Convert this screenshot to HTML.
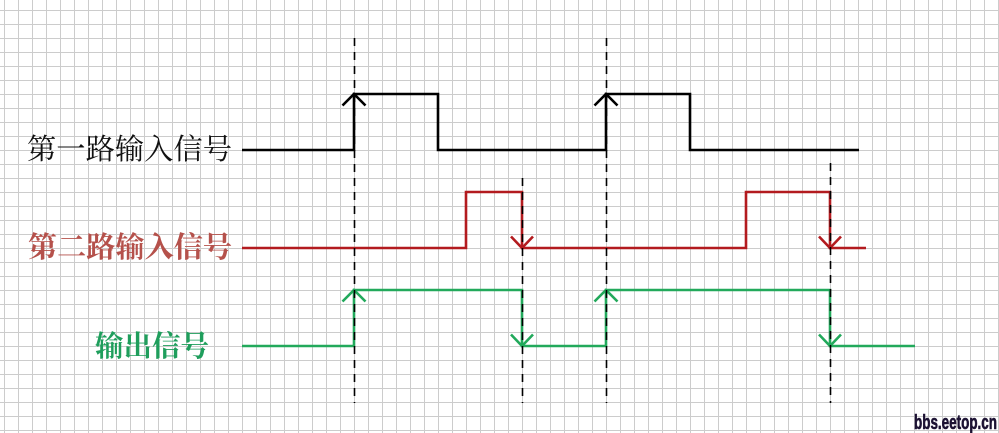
<!DOCTYPE html>
<html>
<head>
<meta charset="utf-8">
<style>
  html,body{margin:0;padding:0;background:#fff;}
  svg{display:block;}
</style>
</head>
<body>
<svg width="999" height="433" viewBox="0 0 999 433" xmlns="http://www.w3.org/2000/svg">
  <defs>
    <pattern id="grid" x="4" y="10" width="14" height="14" patternUnits="userSpaceOnUse">
      <path d="M0,0.5 H14 M0.5,0 V14" stroke="#cccccc" stroke-width="1" fill="none"/>
    </pattern>
  </defs>
  <rect x="0" y="0" width="999" height="433" fill="#fff"/>
  <rect x="0" y="0" width="999" height="433" fill="url(#grid)"/>

  <!-- Labels -->
  <text x="27" y="159" font-family="'Liberation Serif','Noto Serif CJK SC',serif" font-size="29" fill="#111" textLength="205" lengthAdjust="spacingAndGlyphs">第一路输入信号</text>
  <text x="28" y="257" font-family="'Liberation Serif','Noto Serif CJK SC',serif" font-size="29" font-weight="bold" fill="#b5514b" textLength="204" lengthAdjust="spacingAndGlyphs">第二路输入信号</text>
  <text x="95" y="356" font-family="'Liberation Serif','Noto Serif CJK SC',serif" font-size="29" font-weight="bold" fill="#1f9e5c" textLength="114" lengthAdjust="spacingAndGlyphs">输出信号</text>

  <!-- Black signal -->
  <g fill="none" stroke="#000" stroke-width="2.6" stroke-linejoin="miter">
    <path d="M242,150 H354 V94 H438 V150 H606 V94 H690 V150 H859"/>
    <path d="M342.5,105.5 L354,94 L365.5,105.5"/>
    <path d="M594.5,105.5 L606,94 L617.5,105.5"/>
  </g>

  <!-- Red signal -->
  <g fill="none" stroke="#b31b1f" stroke-width="2.6">
    <path d="M242,248 H466 V192 H522 V248 H746 V192 H830 V248 H866"/>
    <path d="M511,236.5 L522,248 L533,236.5"/>
    <path d="M819,236.5 L830,248 L841,236.5"/>
  </g>

  <!-- Green signal -->
  <g fill="none" stroke="#22a95b" stroke-width="2.6">
    <path d="M242,346 H354 V290 H522 V346 H606 V290 H830 V346 H915"/>
    <path d="M342.5,301.5 L354,290 L365.5,301.5"/>
    <path d="M511,334.5 L522,346 L533,334.5"/>
    <path d="M594.5,301.5 L606,290 L617.5,301.5"/>
    <path d="M819,334.5 L830,346 L841,334.5"/>
  </g>

  <!-- Dashed reference lines -->
  <g stroke="#000" stroke-width="1.6" stroke-dasharray="8,6" fill="none">
    <line x1="354.5" y1="38" x2="354.5" y2="403"/>
    <line x1="606.5" y1="38" x2="606.5" y2="403"/>
    <line x1="522.5" y1="178" x2="522.5" y2="403"/>
    <line x1="830.5" y1="163" x2="830.5" y2="403"/>
  </g>

  <!-- Watermark -->
  <text x="914" y="429" font-family="'Liberation Sans Narrow','Liberation Sans',sans-serif" font-size="20" font-weight="bold" fill="#1c1233" stroke="#1c1233" stroke-width="0.6" textLength="83" lengthAdjust="spacingAndGlyphs">bbs.eetop.cn</text>
</svg>
</body>
</html>
